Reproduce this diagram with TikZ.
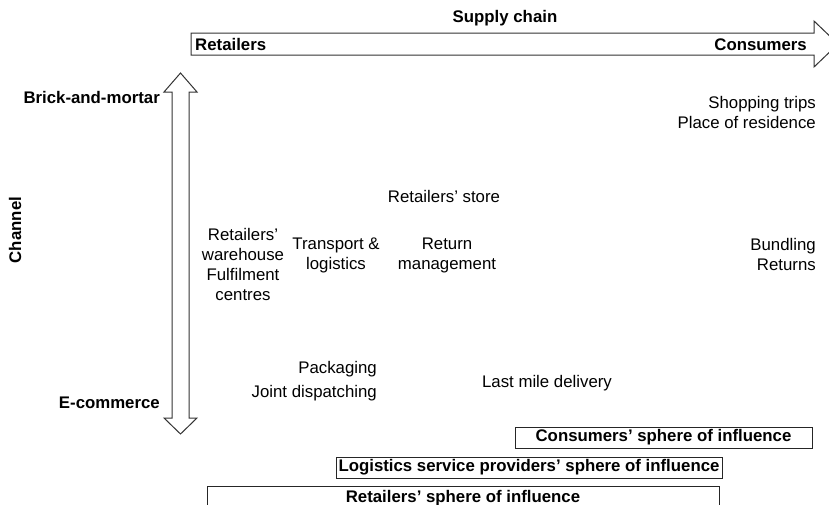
\documentclass[tikz,border=0pt]{standalone}
\usepackage{fontspec}
\setmainfont{Liberation Sans}
\begin{document}
\begin{tikzpicture}[x=1pt,y=-1pt,
  txt/.style={font=\fontsize{16.8}{20}\selectfont, inner sep=0pt, align=center},
  btxt/.style={font=\bfseries\fontsize{16.8}{20}\selectfont, inner sep=0pt, align=center},
  outline/.style={draw=black!80, line width=1pt, fill=white},
  spherebox/.style={draw=black!85, line width=1pt, btxt, text height=12pt, text depth=3.5pt, minimum height=21pt}]
\useasboundingbox (0,0) rectangle (829,504);
% supply chain arrow
\draw[outline] (191,33) -- (814,33) -- (814,21) -- (838,44) -- (814,67) -- (814,55) -- (191,55) -- cycle;
% channel arrow
\draw[outline] (180.5,73) -- (197,92) -- (189,92) -- (189,418) -- (197,418) -- (180.5,434) -- (164,418) -- (172,418) -- (172,92) -- (164,92) -- cycle;
\node[btxt, anchor=base] (sc) at (505,22) {Supply chain};
\node[btxt, anchor=base west] (ret) at (195,50) {Retailers};
\node[btxt, anchor=base east] (con) at (807,50) {Consumers};
\node[btxt, anchor=base east] (bm) at (160,103) {Brick-and-mortar};
\node[btxt, anchor=base east] (ec) at (160,408) {E-commerce};
\node[btxt, rotate=90] (ch) at (15,230) {Channel};
% content (multi-line nodes: base = baseline of last line)
\node[txt, anchor=base east, align=right] (shop) at (816,128) {Shopping trips\\Place of residence};
\node[txt, anchor=base] (store) at (444,202) {Retailers’ store};
\node[txt, anchor=base] (wh) at (243,300) {Retailers’\\warehouse\\Fulfilment\\centres};
\node[txt, anchor=base] (tl) at (336,269) {Transport \&\\logistics};
\node[txt, anchor=base] (rm) at (447,269) {Return\\management};
\node[txt, anchor=base east, align=right] (bund) at (816,270) {Bundling\\Returns};
\node[txt, anchor=base east, align=right] (pack) at (377,373) {Packaging};
\node[txt, anchor=base east, align=right] (jd) at (377,397) {Joint dispatching};
\node[txt, anchor=base] (lmd) at (547,387) {Last mile delivery};
% spheres
\node[spherebox, minimum width=297pt] (csph) at (663.5,437.5) {Consumers’ sphere of influence};
\node[spherebox, minimum width=386pt] (lsph) at (529,467.5) {Logistics service providers’ sphere of influence};
\draw[draw=black!85, line width=1pt] (207,530) rectangle (719,486);
\node[btxt, anchor=base] (rsph) at (463,502) {Retailers’ sphere of influence};
\end{tikzpicture}
\end{document}
